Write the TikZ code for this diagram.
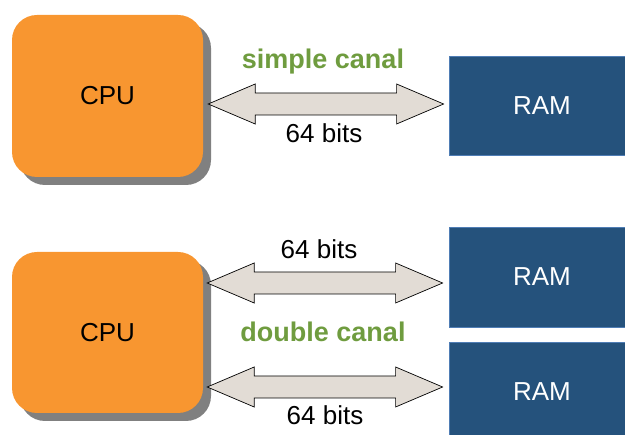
\documentclass[tikz,border=0pt]{standalone}
\usepackage{fontspec}
\setmainfont{Liberation Sans}
\usepackage{tikz}
\usetikzlibrary{positioning,calc,shadows}

\definecolor{cpuorange}{HTML}{F89630}
\definecolor{ramblue}{HTML}{25527C}
\definecolor{ramedge}{HTML}{4F7DB5}
\definecolor{busfill}{HTML}{E2DCD5}
\definecolor{canalgreen}{HTML}{6F9C3F}

% wide double-headed bus arrow between two points
\newcommand{\busarrow}[2]{%
  \filldraw[bus] (#1) -- ++(47,-20) -- ++(0,9) -- ($(#2)+(-47,-11)$) -- ++(0,-9)
    -- (#2) -- ++(-47,20) -- ++(0,-9) -- ($(#1)+(47,11)$) -- ++(0,9) -- cycle;}

\begin{document}
\begin{tikzpicture}[x=1pt, y=-1pt, font=\fontsize{26}{31}\selectfont,
  cpu/.style={fill=cpuorange, rounded corners=25pt, minimum width=191pt, minimum height=162pt,
    drop shadow={shadow xshift=8pt, shadow yshift=-8pt, fill=black!50, opacity=1}},
  ram/.style={fill=ramblue, draw=ramedge, line width=0.8pt, minimum width=186pt,
    minimum height=99pt, text=white},
  bus/.style={fill=busfill, draw=black, line width=0.7pt},
  canal/.style={text=canalgreen, font=\fontsize{27}{32}\selectfont\bfseries, anchor=base},
  bits/.style={anchor=base}]
\useasboundingbox (0,0) rectangle (625,435);

%Simple canal
\node[cpu] (cpu1) at (107.5,96) {CPU};
\node[ram] (ram1) at (542,105.5) {RAM};
\coordinate (bus1a) at ($(cpu1.east)+(5,8)$);
\coordinate (bus1b) at ($(bus1a -| ram1.west)+(-5,0)$);
\busarrow{bus1a}{bus1b}
\node[canal] (simple) at (323,69) {simple canal};
\node[bits] (bits1) at (324,143) {64 bits};

%Double canal
\node[cpu, minimum height=161pt] (cpu2) at (107.5,332.5) {CPU};
\node[ram, minimum height=100pt] (ram2) at (542,277) {RAM};
\node[ram, minimum height=100pt] (ram3) at (542,392) {RAM};
\coordinate (bus2a) at ($(cpu2.east)+(4,-49.5)$);
\coordinate (bus2b) at ($(bus2a -| ram2.west)+(-6,0)$);
\coordinate (bus3a) at ($(cpu2.east)+(4,54.5)$);
\coordinate (bus3b) at ($(bus3a -| ram3.west)+(-6,0)$);
\busarrow{bus2a}{bus2b}
\busarrow{bus3a}{bus3b}
\node[bits] (bits2) at (319,259) {64 bits};
\node[canal] (double) at (323,342) {double canal};
\node[bits] (bits3) at (325,425) {64 bits};

\end{tikzpicture}
\end{document}
